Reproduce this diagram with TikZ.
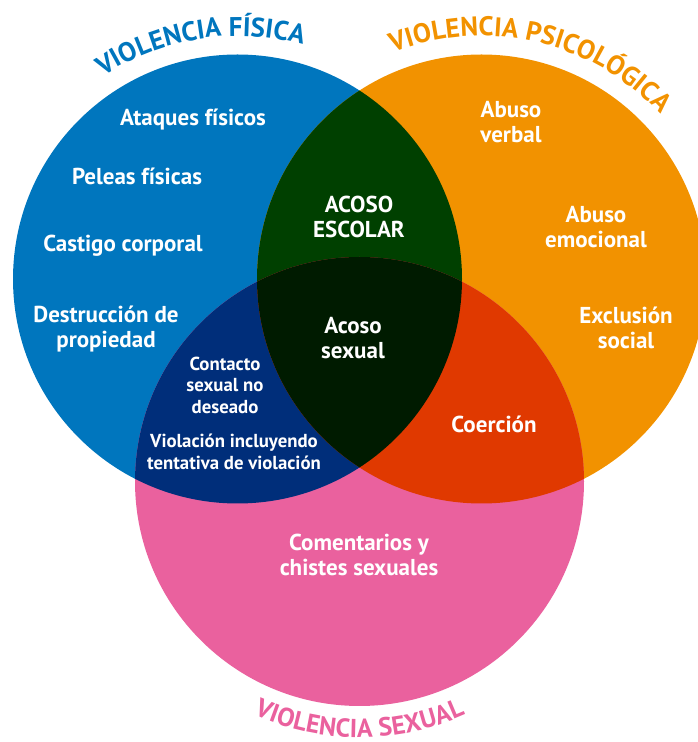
\documentclass[tikz,border=0pt]{standalone}
\usepackage{fontspec}
\setmainfont{PT Sans}
\usetikzlibrary{decorations.text,calc}
\definecolor{cblue}{RGB}{0,118,190}
\definecolor{corange}{RGB}{242,146,0}
\definecolor{cpink}{RGB}{234,97,158}
\definecolor{cgreen}{RGB}{0,64,0}
\definecolor{cnavy}{RGB}{0,46,122}
\definecolor{cred}{RGB}{224,57,0}
\definecolor{cdark}{RGB}{0,27,0}
\begin{document}
\begin{tikzpicture}[x=1pt,y=1pt,
  lbl/.style={text=white,font=\bfseries\fontsize{23}{24.5}\selectfont,align=center,inner sep=0pt},
  lblsmall/.style={text=white,font=\bfseries\fontsize{18.8}{21.5}\selectfont,align=center,inner sep=0pt}]
\useasboundingbox (0,0) rectangle (697,742);
\def\R{224.5}
\coordinate (B) at (237.5,463);
\coordinate (O) at (481.5,463);
\coordinate (P) at (359.5,260.5);
% base circles
\fill[cblue] (B) circle (\R);
\fill[corange] (O) circle (\R);
\fill[cpink] (P) circle (\R);
% pairwise intersections
\begin{scope}\clip (B) circle (\R); \fill[cgreen] (O) circle (\R); \end{scope}
\begin{scope}\clip (B) circle (\R); \fill[cnavy] (P) circle (\R); \end{scope}
\begin{scope}\clip (O) circle (\R); \fill[cred] (P) circle (\R); \end{scope}
\begin{scope}\clip (B) circle (\R); \clip (O) circle (\R); \fill[cdark] (P) circle (\R); \end{scope}
% titles
\path[decorate,decoration={text along path,text align=center,text color=cblue,
   text={|\bfseries\fontsize{27}{27}\selectfont|VIOLENCIA FÍSICA}}]
   ($(B)+(131:243)$) arc (131:67:243);
\path[decorate,decoration={text along path,text align=center,text color=corange,
   text={|\bfseries\fontsize{27}{27}\selectfont|VIOLENCIA PSICOLÓGICA}}]
   ($(O)+(125:243)$) arc (125:29:243);
\path[decorate,decoration={text along path,text align=center,text color=cpink,
   text={|\bfseries\fontsize{26}{26}\selectfont|VIOLENCIA SEXUAL}}]
   ($(P)+(-122:256)$) arc (-122:-58:256);
% labels
\node[lbl] (t1) at (193,622) {Ataques físicos};
\node[lbl] (t2) at (137,566) {Peleas físicas};
\node[lbl] (t3) at (123,496) {Castigo corporal};
\node[lbl] (t4) at (106,413) {Destrucción de\\propiedad};
\node[lblsmall] (t5) at (225,357) {Contacto\\sexual no\\deseado};
\node[lblsmall] (t6) at (234,290) {Violación incluyendo\\tentativa de violación};
\node[lbl] (t7) at (359,525) {ACOSO\\ESCOLAR};
\node[lbl] (t8) at (353,404) {Acoso\\sexual};
\node[lbl] (t9) at (511,620) {Abuso\\verbal};
\node[lbl] (t10) at (596,515) {Abuso\\emocional};
\node[lbl] (t11) at (626,414) {Exclusión\\social};
\node[lbl] (t12) at (494,318) {Coerción};
\node[lbl] (t13) at (359,187) {Comentarios y\\chistes sexuales};
\end{tikzpicture}
\end{document}
